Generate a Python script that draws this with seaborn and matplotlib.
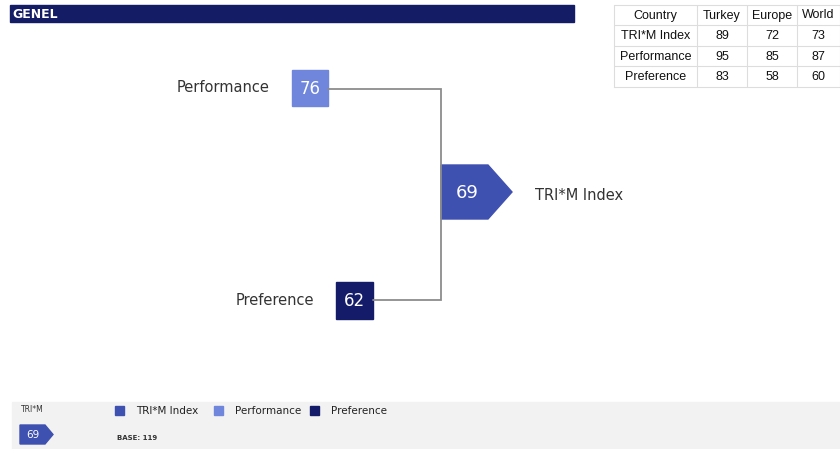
import seaborn as sns
import matplotlib
matplotlib.use("Agg")
import matplotlib.pyplot as plt
from matplotlib.patches import Rectangle, Polygon

# data
title = "GENEL"
index_name = "TRI*M Index"
components = ["Performance", "Preference"]
component_values = [76, 62]
index_value = 69
base_n = 119

table_cols = ["Country", "Turkey", "Europe", "World"]
table_rows = ["TRI*M Index", "Performance", "Preference"]
turkey = [89, 95, 83]
europe = [72, 85, 58]
world = [73, 87, 60]

sns.set_theme(style="white")
plt.rcParams["font.family"] = ["DejaVu Sans"]
c_index, c_perf, c_pref = "#3F51B0", "#6F86DC", "#141C6A"
colors = {"Performance": c_perf, "Preference": c_pref}

fig = plt.figure(figsize=(8.4, 4.49), dpi=100)
ax = fig.add_axes([0, 0, 1, 1])
ax.set_xlim(0, 840)
ax.set_ylim(449, 0)
ax.axis("off")

# header bar
ax.add_patch(Rectangle((10, 5), 564, 17, color="#131C64"))
ax.text(12, 14, title, color="white", fontsize=9, weight="bold", va="center")

# connector lines
line_c = "#8C8C8C"
ax.plot([328, 441, 441, 373], [89, 89, 300, 300], color=line_c, lw=1.3, solid_joinstyle="miter")

# component boxes
boxes = {"Performance": (292, 70, 36), "Preference": (336, 282, 37)}
for name, val in zip(components, component_values):
    x0, y0, s = boxes[name]
    ax.add_patch(Rectangle((x0, y0), s, s, color=colors[name]))
    ax.text(x0 + s / 2, y0 + s / 2 + 1, str(val), color="white", fontsize=12, ha="center", va="center")
    ax.text(x0 - 22, y0 + s / 2, name, color="#333333", fontsize=10.5, ha="right", va="center")

# index pentagon
ax.add_patch(Polygon([(441, 165), (488, 165), (512, 192), (488, 219), (441, 219)], color=c_index))
ax.text(467, 193, str(index_value), color="white", fontsize=13, ha="center", va="center")
ax.text(535, 196, index_name, color="#333333", fontsize=10.5, ha="left", va="center")

# table
col_x = [614, 697, 747, 797, 840]
row_y = [5, 25, 46, 66, 87]
cells = [table_cols] + [[r, str(a), str(b), str(c)] for r, a, b, c in zip(table_rows, turkey, europe, world)]
grid_c = "#DDDDDD"
for y in row_y:
    ax.plot([col_x[0], col_x[-1]], [y, y], color=grid_c, lw=0.8)
for x in col_x:
    ax.plot([x, x], [row_y[0], row_y[-1]], color=grid_c, lw=0.8)
for i, row in enumerate(cells):
    for j, txt in enumerate(row):
        ax.text((col_x[j] + col_x[j + 1]) / 2, (row_y[i] + row_y[i + 1]) / 2 + 0.5, txt,
                fontsize=9, ha="center", va="center", color="#111111", family="Liberation Sans")

# footer
ax.add_patch(Rectangle((12, 402), 828, 47, color="#F2F2F2"))
ax.text(21, 410, "TRI*M", fontsize=5.5, va="center", color="#333333")
ax.add_patch(Polygon([(20, 425), (45, 425), (53, 434.5), (45, 444), (20, 444)], color=c_index))
ax.text(33, 434.5, str(index_value), color="white", fontsize=7.5, ha="center", va="center")
leg = [(index_name, c_index, 115), ("Performance", c_perf, 214), ("Preference", c_pref, 310)]
for name, col, x in leg:
    ax.add_patch(Rectangle((x, 406), 9, 9, color=col))
    ax.text(x + 21, 411, name, fontsize=7.5, va="center", color="#222222")
ax.text(117, 438, f"BASE: {base_n}", fontsize=5, weight="bold", va="center", color="#333333")

fig.savefig("out.png", dpi=100)
